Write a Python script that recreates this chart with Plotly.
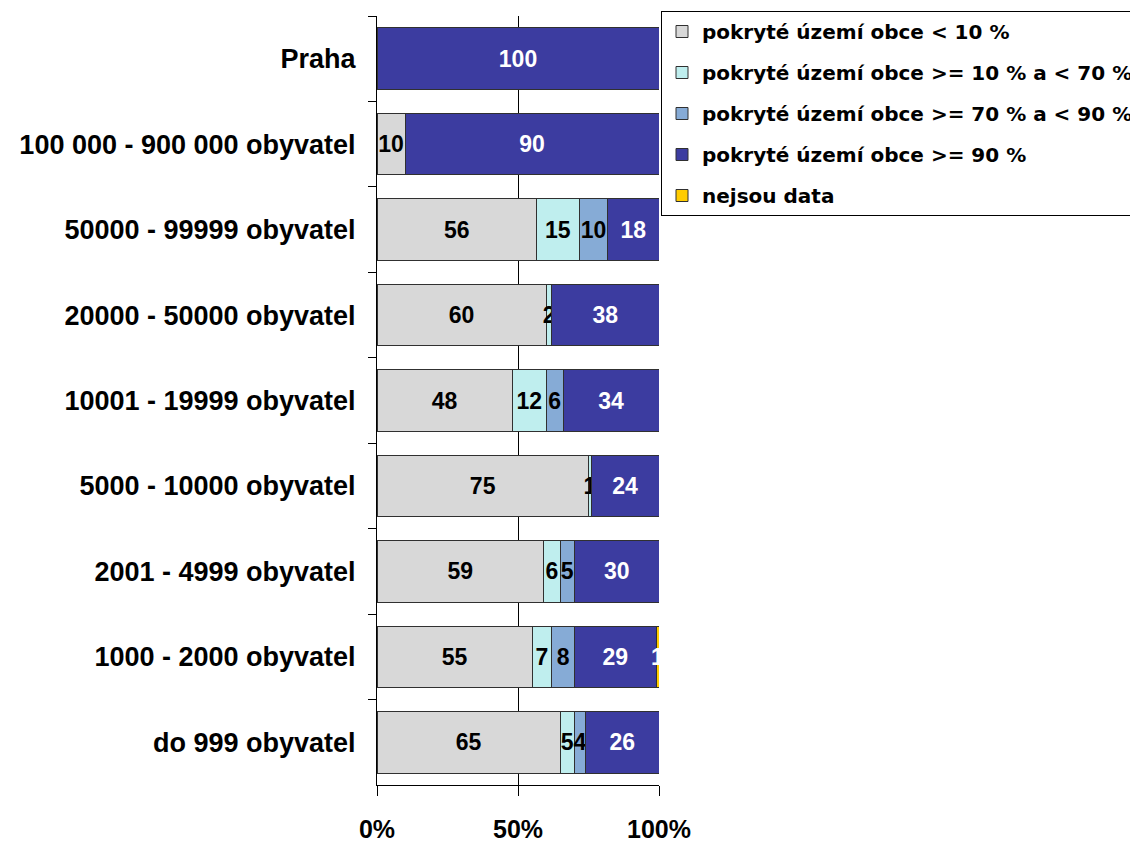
import plotly.graph_objects as go

categories = ["Praha", "100 000 - 900 000 obyvatel", "50000 - 99999 obyvatel",
              "20000 - 50000 obyvatel", "10001 - 19999 obyvatel", "5000 - 10000 obyvatel",
              "2001 - 4999 obyvatel", "1000 - 2000 obyvatel", "do 999 obyvatel"]

s_lt10 = [0, 10, 56, 60, 48, 75, 59, 55, 65]
s_10_70 = [0, 0, 15, 2, 12, 1, 6, 7, 5]
s_70_90 = [0, 0, 10, 0, 6, 0, 5, 8, 4]
s_ge90 = [100, 90, 18, 38, 34, 24, 30, 29, 26]
s_nodata = [0, 0, 0, 0, 0, 0, 0, 1, 0]

series = [
    ("pokryté území obce < 10 %", s_lt10, "#d8d8d8", "black"),
    ("pokryté území obce >= 10 % a < 70 %", s_10_70, "#bfeeee", "black"),
    ("pokryté území obce >= 70 % a < 90 %", s_70_90, "#86abd6", "black"),
    ("pokryté území obce >= 90 %", s_ge90, "#3c3ca0", "white"),
    ("nejsou data", s_nodata, "#ffcc00", "white"),
]

FONT = "Liberation Sans, Arial, sans-serif"
LFONT = "DejaVu Sans, Liberation Sans, sans-serif"

fig = go.Figure()
for i, (name, vals, color, tcol) in enumerate(series):
    fig.add_trace(go.Bar(
        y=categories, x=vals, name=name, orientation="h",
        marker=dict(color=color, line=dict(color="#303030", width=1)),
        text=[str(v) if v else "" for v in vals],
        textposition="inside", insidetextanchor="middle",
        textfont=dict(family=FONT, size=23, color=tcol, weight="bold"),
        legendgroup=f"g{i}", width=0.72,
        cliponaxis=False,
    ))

W, H = 1130, 837
fig.update_layout(
    barmode="stack", barnorm="percent",
    width=W, height=H,
    margin=dict(l=369, r=W - 369 - 282, t=8, b=H - 8 - 769, autoexpand=False),
    paper_bgcolor="white", plot_bgcolor="white",
    font=dict(family=FONT, size=20, color="black", weight="bold"),
    uniformtext=dict(minsize=23, mode="show"),
    legend=dict(xref="container", yref="container",
                x=653 / W, y=(H - 3) / H, xanchor="left", yanchor="top",
                bordercolor="black", borderwidth=1, bgcolor="white",
                traceorder="grouped", tracegroupgap=12, itemwidth=30,
                font=dict(family=LFONT, size=20, color="black", weight="bold")),
    showlegend=True,
)
fig.update_xaxes(range=[0, 100.0001], tickvals=[0, 50, 100], ticktext=["0%", "50%", "100%"],
                 showgrid=True, gridcolor="black", gridwidth=1, zeroline=False,
                 showline=True, linecolor="black", linewidth=1,
                 ticks="outside", ticklen=10, tickcolor="black",
                 ticklabelstandoff=12, automargin=False, ticklabeloverflow="allow",
                 tickfont=dict(family=FONT, size=25, weight="bold"))
fig.update_yaxes(categoryorder="array", categoryarray=categories, autorange="reversed",
                 showline=True, linecolor="black", linewidth=1,
                 ticks="outside", ticklen=8, tickcolor="black", tickson="boundaries",
                 ticklabelstandoff=15, showgrid=False, automargin=False,
                 tickfont=dict(family=FONT, size=27, weight="bold"))

fig.write_html("out.html")
